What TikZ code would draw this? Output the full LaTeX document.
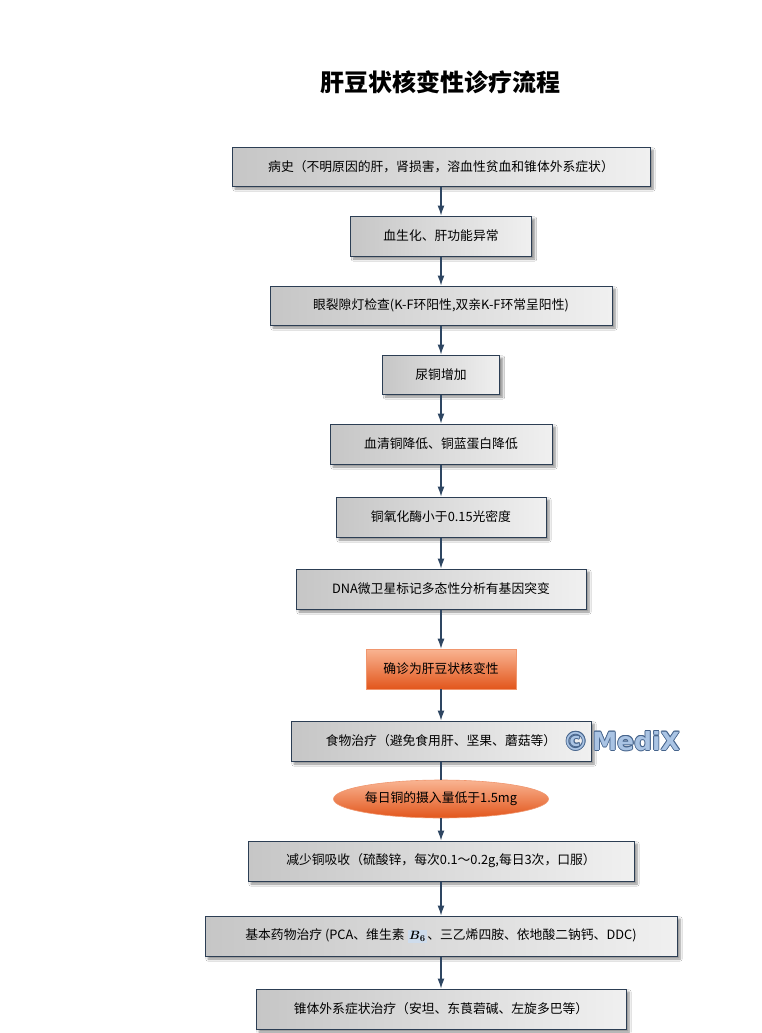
\documentclass[tikz,border=0pt]{standalone}
\usepackage{amsmath}
\usepackage{fontspec}
\setmainfont{Noto Sans CJK SC}
\newfontfamily\wmfont{DejaVu Sans}
\usetikzlibrary{arrows.meta,shapes.geometric,shadows.blur}
\definecolor{bordc}{RGB}{44,62,84}
\definecolor{arrc}{RGB}{46,70,98}
\definecolor{boxl}{RGB}{198,198,198}
\definecolor{boxr}{RGB}{240,240,240}
\definecolor{orT}{RGB}{249,180,146}
\definecolor{orB}{RGB}{226,86,28}
\definecolor{orE}{RGB}{240,150,110}
\definecolor{wmfill}{RGB}{170,196,228}
\definecolor{wmline}{RGB}{70,100,140}
\definecolor{bsix}{RGB}{206,220,236}
\begin{document}
\begin{tikzpicture}[x=1pt,y=-1pt,
  stepbox/.style={draw=bordc, line width=1pt, left color=boxl, right color=boxr,
    rectangle, inner sep=0pt, font=\fontsize{12.8}{14}\selectfont, text=black,
    blur shadow={shadow xshift=3pt, shadow yshift=-3pt, shadow blur steps=6, shadow opacity=45}},
  orbox/.style={draw=orE, line width=0.6pt, top color=orT, bottom color=orB,
    rectangle, inner sep=0pt, font=\fontsize{12.8}{14}\selectfont, text=black},
  orell/.style={draw=orE, line width=0.6pt, top color=orT, bottom color=orB,
    ellipse, inner sep=0pt, font=\fontsize{12.8}{14}\selectfont, text=black},
  arr/.style={draw=arrc, line width=1.1pt, -{Latex[length=10pt,width=7pt]}},
  ln/.style={draw=arrc, line width=1.1pt}]
\useasboundingbox (0,0) rectangle (761,1033);
\fill[white] (0,0) rectangle (761,1033);

\node[font=\fontsize{24}{26}\selectfont\bfseries] (title) at (440,82) {肝豆状核变性诊疗流程};

\node[stepbox, minimum width=418pt, minimum height=39pt] (b1) at (441,166.5) {病史（不明原因的肝，肾损害，溶血性贫血和锥体外系症状）};
\node[stepbox, minimum width=181pt, minimum height=40pt] (b2) at (441,236) {血生化、肝功能异常};
\node[stepbox, minimum width=342pt, minimum height=39pt] (b3) at (441,305.5) {眼裂隙灯检查(K-F环阳性,双亲K-F环常呈阳性)};
\node[stepbox, minimum width=117pt, minimum height=39pt] (b4) at (441,374.5) {尿铜增加};
\node[stepbox, minimum width=222pt, minimum height=40pt] (b5) at (441,444) {血清铜降低、铜蓝蛋白降低};
\node[stepbox, minimum width=210pt, minimum height=40pt] (b6) at (441,517) {铜氧化酶小于0.15光密度};
\node[stepbox, minimum width=290pt, minimum height=40pt] (b7) at (441,589) {DNA微卫星标记多态性分析有基因突变};
\node[orbox, minimum width=150pt, minimum height=40pt] (b8) at (441,669) {确诊为肝豆状核变性};
\node[stepbox, minimum width=300pt, minimum height=40pt] (b9) at (441,741) {食物治疗（避免食用肝、坚果、蘑菇等）};
\node[orell, minimum width=205pt, minimum height=38pt] (b10) at (441,799) {每日铜的摄入量低于1.5mg};
\node[stepbox, minimum width=386pt, minimum height=40pt] (b11) at (441,861) {减少铜吸收（硫酸锌，每次0.1～0.2g,每日3次，口服）};
\node[stepbox, minimum width=472pt, minimum height=40pt] (b12) at (441,936) {基本药物治疗 (PCA、维生素 {\setlength{\fboxsep}{1.5pt}\colorbox{bsix}{$\boldsymbol{B}_{\boldsymbol{6}}$}}、三乙烯四胺、依地酸二钠钙、DDC)};
\node[stepbox, minimum width=370pt, minimum height=40pt] (b13) at (441,1009) {锥体外系症状治疗（安坦、东莨菪碱、左旋多巴等）};

\draw[arr] (b1) -- (b2);
\draw[arr] (b2) -- (b3);
\draw[arr] (b3) -- (b4);
\draw[arr] (b4) -- (b5);
\draw[arr] (b5) -- (b6);
\draw[arr] (b6) -- (b7);
\draw[arr] (b7) -- (b8);
\draw[arr] (b8) -- (b9);
\draw[ln] (b9) -- (b10);
\draw[arr] (b10) -- (b11);
\draw[arr] (b11) -- (b12);
\draw[arr] (b12) -- (b13);

% watermark
\foreach \dx/\dy in {-0.8/0,0.8/0,0/-0.8,0/0.8,-0.6/-0.6,0.6/0.6,-0.6/0.6,0.6/-0.6}{
  \node[font=\wmfont\fontsize{25}{27}\selectfont\bfseries, text=wmline, anchor=west, inner sep=0pt] at (563+\dx,741+\dy) {©\,MediX};
}
\node[font=\wmfont\fontsize{25}{27}\selectfont\bfseries, text=wmfill, anchor=west, inner sep=0pt] (wm) at (563,741) {©\,MediX};
\end{tikzpicture}
\end{document}
